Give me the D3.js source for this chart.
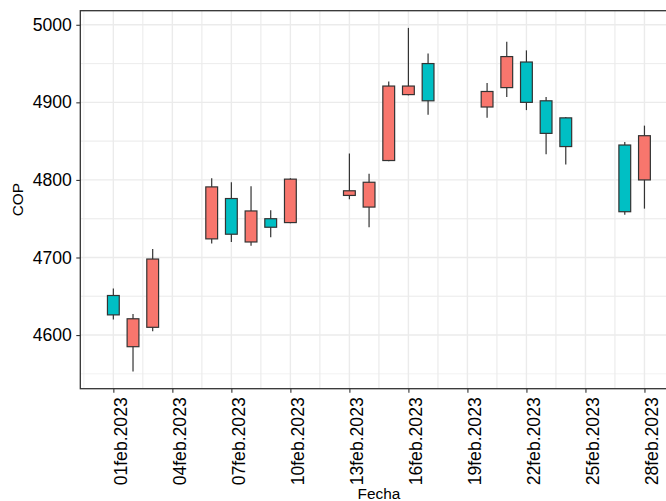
<!DOCTYPE html>
<html>
<head>
<meta charset="utf-8">
<script src="https://cdn.jsdelivr.net/npm/d3@7"></script>
<style>
    body { margin: 0; background: #fff; }
    text { font-family: "Liberation Sans", Arial, sans-serif; }
</style>
</head>
<body>
<div id="chart"></div>
<script>
// precios diarios USD/COP, febrero 2023
const fechas   = ["2023-02-01", "2023-02-02", "2023-02-03", "2023-02-06", "2023-02-07", "2023-02-08",
                  "2023-02-09", "2023-02-10", "2023-02-13", "2023-02-14", "2023-02-15", "2023-02-16",
                  "2023-02-17", "2023-02-20", "2023-02-21", "2023-02-22", "2023-02-23", "2023-02-24",
                  "2023-02-27", "2023-02-28"]
const apertura = [4651, 4585, 4610, 4724, 4776, 4720, 4750, 4745, 4780, 4765, 4825, 4910,
                  4950, 4894, 4919, 4952, 4902, 4880, 4845, 4800]
const maximo   = [4660, 4627, 4711, 4802, 4797, 4792, 4761, 4802, 4834, 4808, 4927, 4996,
                  4963, 4925, 4978, 4967, 4907, 4881, 4849, 4870]
const minimo   = [4620, 4553, 4605, 4718, 4720, 4715, 4726, 4744, 4775, 4739, 4824, 4909,
                  4884, 4880, 4907, 4890, 4833, 4820, 4755, 4763]
const cierre   = [4626, 4621, 4698, 4791, 4730, 4760, 4739, 4801, 4786, 4797, 4921, 4921,
                  4902, 4914, 4959, 4900, 4860, 4843, 4759, 4857]

// ticks
const xTicks = ["2023-02-01", "2023-02-04", "2023-02-07", "2023-02-10", "2023-02-13",
                "2023-02-16", "2023-02-19", "2023-02-22", "2023-02-25", "2023-02-28"]
const yTicks = [4600, 4700, 4800, 4900, 5000]

const ALZA = "#F8766D"
const BAJA = "#00BFC4"
const DAY = 24 * 60 * 60 * 1000

class CandleChart {

    constructor(parentElement, data) {
        this.parentElement = parentElement
        this.data = data

        this.initVis()
    }

    initVis() {
        let vis = this

        // the panel runs past the right edge of the picture
        vis.margin = { top: 10.7, right: -11.5, bottom: 112.3, left: 80.3 };
        vis.width = 666 - vis.margin.left - vis.margin.right;
        vis.height = 501 - vis.margin.top - vis.margin.bottom;

        vis.root = d3.select("#" + vis.parentElement).append("svg")
            .attr("width", 666)
            .attr("height", 501)

        vis.svg = vis.root.append("g")
            .attr("transform", "translate(" + vis.margin.left + "," + vis.margin.top + ")");

        // spanish month names for the date labels
        vis.locale = d3.timeFormatLocale({
            dateTime: "%A, %e de %B de %Y, %X",
            date: "%d/%m/%Y",
            time: "%H:%M:%S",
            periods: ["AM", "PM"],
            days: ["domingo", "lunes", "martes", "miércoles", "jueves", "viernes", "sábado"],
            shortDays: ["dom", "lun", "mar", "mié", "jue", "vie", "sáb"],
            months: ["enero", "febrero", "marzo", "abril", "mayo", "junio", "julio", "agosto",
                "septiembre", "octubre", "noviembre", "diciembre"],
            shortMonths: ["ene", "feb", "mar", "abr", "may", "jun", "jul", "ago", "sep", "oct", "nov", "dic"]
        })
        vis.formatDate = vis.locale.format("%d%b.%Y")

        vis.wrangleData()
    }

    wrangleData() {
        let vis = this

        // box half width is 0.3 days, then 5% expansion like ggplot
        let lo = d3.min(vis.data, d => d.fecha).getTime() - 0.3 * DAY
        let hi = d3.max(vis.data, d => d.fecha).getTime() + 0.3 * DAY
        let padX = (hi - lo) * 0.05
        vis.xDomain = [new Date(lo - padX), new Date(hi + padX)]

        let yLo = d3.min(vis.data, d => d.minimo)
        let yHi = d3.max(vis.data, d => d.maximo)
        let padY = (yHi - yLo) * 0.05
        vis.yDomain = [yLo - padY, yHi + padY]

        vis.updateVis()
    }

    updateVis() {
        let vis = this

        vis.x = d3.scaleTime()
            .domain(vis.xDomain)
            .range([0, vis.width]);

        vis.y = d3.scaleLinear()
            .domain(vis.yDomain)
            .range([vis.height, 0]);

        let parse = d3.timeParse("%Y-%m-%d")
        let xMajor = xTicks.map(parse)

        // minor breaks halfway between the majors
        let xMinor = []
        xMajor.forEach(t => {
            xMinor.push(new Date(t.getTime() - 1.5 * DAY))
            xMinor.push(new Date(t.getTime() + 1.5 * DAY))
        })
        xMinor = xMinor.filter(t => t > vis.xDomain[0] && t < vis.xDomain[1])

        let yMinor = []
        yTicks.forEach(v => { yMinor.push(v - 50); yMinor.push(v + 50) })
        yMinor = yMinor.filter(v => v > vis.yDomain[0] && v < vis.yDomain[1])

        let grid = vis.svg.append("g").attr("class", "grid")

        grid.selectAll(".minor-x")
            .data(xMinor)
            .enter().append("line")
            .attr("x1", d => vis.x(d)).attr("x2", d => vis.x(d))
            .attr("y1", 0).attr("y2", vis.height)
            .attr("stroke", "#EBEBEB").attr("stroke-width", 0.7)

        grid.selectAll(".minor-y")
            .data(yMinor)
            .enter().append("line")
            .attr("x1", 0).attr("x2", vis.width)
            .attr("y1", d => vis.y(d)).attr("y2", d => vis.y(d))
            .attr("stroke", "#EBEBEB").attr("stroke-width", 0.7)

        grid.selectAll(".major-x")
            .data(xMajor)
            .enter().append("line")
            .attr("x1", d => vis.x(d)).attr("x2", d => vis.x(d))
            .attr("y1", 0).attr("y2", vis.height)
            .attr("stroke", "#EBEBEB").attr("stroke-width", 1.4)

        grid.selectAll(".major-y")
            .data(yTicks)
            .enter().append("line")
            .attr("x1", 0).attr("x2", vis.width)
            .attr("y1", d => vis.y(d)).attr("y2", d => vis.y(d))
            .attr("stroke", "#EBEBEB").attr("stroke-width", 1.4)

        // wicks
        vis.svg.selectAll(".wick")
            .data(vis.data)
            .enter().append("line")
            .attr("class", "wick")
            .attr("x1", d => vis.x(d.fecha))
            .attr("x2", d => vis.x(d.fecha))
            .attr("y1", d => vis.y(d.maximo))
            .attr("y2", d => vis.y(d.minimo))
            .attr("stroke", "#333333")
            .attr("stroke-width", 1.2)

        // bodies
        vis.svg.selectAll(".body")
            .data(vis.data)
            .enter().append("rect")
            .attr("class", "body")
            .attr("x", d => vis.x(new Date(d.fecha.getTime() - 0.3 * DAY)))
            .attr("width", d => vis.x(new Date(d.fecha.getTime() + 0.3 * DAY)) - vis.x(new Date(d.fecha.getTime() - 0.3 * DAY)))
            .attr("y", d => vis.y(Math.max(d.apertura, d.cierre)))
            .attr("height", d => vis.y(Math.min(d.apertura, d.cierre)) - vis.y(Math.max(d.apertura, d.cierre)))
            .attr("fill", d => d.cierre > d.apertura ? ALZA : BAJA)
            .attr("stroke", "#333333")
            .attr("stroke-width", 1.2)

        // panel border
        vis.svg.append("rect")
            .attr("width", vis.width)
            .attr("height", vis.height)
            .attr("fill", "none")
            .attr("stroke", "#333333")
            .attr("stroke-width", 1.3)

        // axes
        vis.yAxis = d3.axisLeft(vis.y)
            .tickValues(yTicks)
            .tickFormat(d3.format("d"))
            .tickSize(4)
            .tickPadding(4.4)

        vis.xAxis = d3.axisBottom(vis.x)
            .tickValues(xMajor)
            .tickFormat(vis.formatDate)
            .tickSize(4)

        let gy = vis.svg.append("g")
            .attr("class", "y-axis axis")
            .call(vis.yAxis)

        let gx = vis.svg.append("g")
            .attr("class", "x-axis axis")
            .attr("transform", "translate(0," + vis.height + ")")
            .call(vis.xAxis)

        vis.svg.selectAll(".axis .domain").remove()
        vis.svg.selectAll(".axis .tick line")
            .attr("stroke", "#333333")
            .attr("stroke-width", 1.1)
        vis.svg.selectAll(".axis text")
            .attr("fill", "#000")
            .attr("font-size", "17.6px")
            .attr("font-family", "'Liberation Sans', Arial, sans-serif")

        gx.selectAll("text")
            .attr("transform", "rotate(-90)")
            .attr("text-anchor", "end")
            .attr("x", -8.6)
            .attr("y", 0)
            .attr("dy", "0.75em")

        // axis titles
        vis.root.append("text")
            .attr("class", "axis-label")
            .text("Fecha")
            .attr("x", vis.margin.left + vis.width / 2)
            .attr("y", 499)
            .attr("text-anchor", "middle")
            .attr("font-size", "15.4px")

        vis.root.append("text")
            .attr("class", "axis-label")
            .text("COP")
            .attr("transform", "translate(23.3, " + (vis.margin.top + vis.height / 2) + ") rotate(-90)")
            .attr("text-anchor", "middle")
            .attr("font-size", "15.4px")
    }
}

let parseFecha = d3.timeParse("%Y-%m-%d")
let velas = fechas.map((f, i) => ({
    fecha: parseFecha(f),
    apertura: apertura[i],
    maximo: maximo[i],
    minimo: minimo[i],
    cierre: cierre[i]
}))

let chart = new CandleChart("chart", velas)
</script>
</body>
</html>
